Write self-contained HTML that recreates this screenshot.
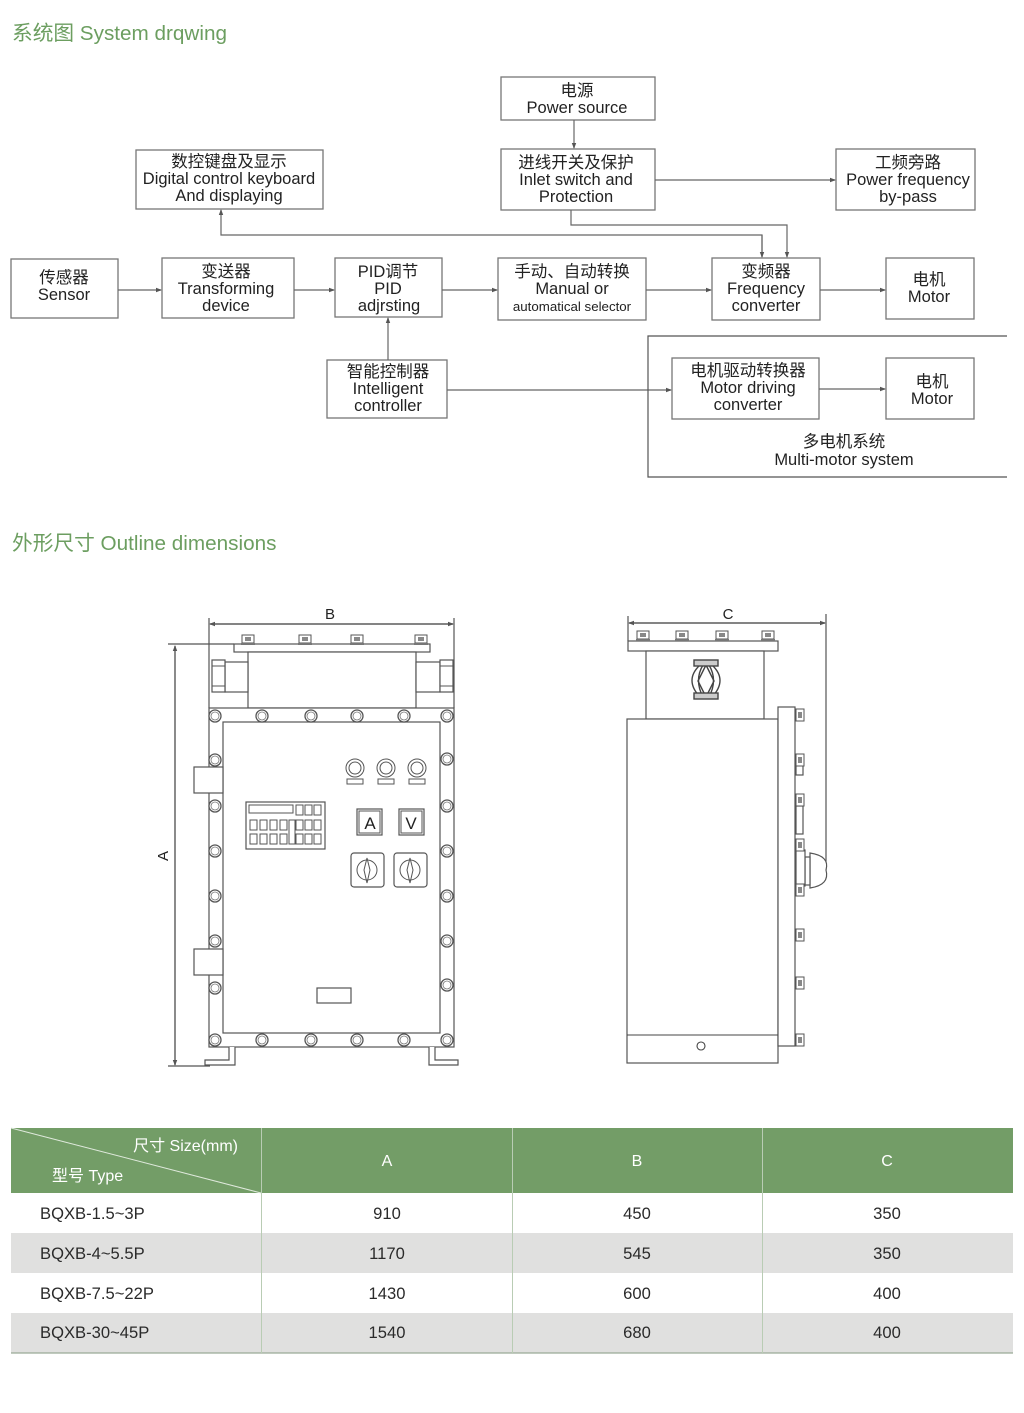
<!DOCTYPE html>
<html><head><meta charset="utf-8"><style>
html,body{margin:0;padding:0;background:#fff;}
svg{display:block;}
text{font-family:"Liberation Sans","Noto Sans CJK SC",sans-serif;}
</style></head><body>
<svg width="1024" height="1413" viewBox="0 0 1024 1413" xmlns="http://www.w3.org/2000/svg">
<defs>
<marker id="ar" markerWidth="6" markerHeight="6" refX="5" refY="3" orient="auto" markerUnits="userSpaceOnUse"><path d="M0,0.8 L6,3 L0,5.2 Z" fill="#555"/></marker>
<g id="bolt"><circle r="6" fill="#fff" stroke="#555" stroke-width="1.3"/><circle r="4" fill="none" stroke="#777" stroke-width="0.8"/></g>
<g id="nut"><rect x="-6" y="-5" width="12" height="8" fill="#fff" stroke="#555"/><rect x="-3" y="-3" width="6" height="4" fill="#888"/><rect x="-7" y="3" width="14" height="2" fill="#777"/></g>
<g id="snut"><rect x="-4" y="-6" width="8" height="12" fill="#fff" stroke="#555"/><rect x="-2" y="-3" width="4" height="6" fill="#888"/></g>
</defs>

<!-- headings -->
<text x="12" y="40" font-size="20.7" fill="#6c9e60">系统图 System drqwing</text>
<text x="12" y="550" font-size="20.7" fill="#6c9e60">外形尺寸 Outline dimensions</text>

<!-- flowchart -->
<g fill="#fff" stroke="#777" stroke-width="1.3">
<rect x="501" y="77" width="154" height="43"/>
<rect x="501" y="149" width="154" height="61"/>
<rect x="836" y="149" width="139" height="61"/>
<rect x="136" y="150" width="187" height="59"/>
<rect x="11" y="259" width="107" height="59"/>
<rect x="162" y="258" width="132" height="60"/>
<rect x="335" y="258" width="107" height="59"/>
<rect x="498" y="258" width="148" height="62"/>
<rect x="712" y="258" width="108" height="62"/>
<rect x="886" y="258" width="88" height="61"/>
<rect x="327" y="360" width="120" height="58"/>
<rect x="672" y="358" width="147" height="61"/>
<rect x="886" y="358" width="88" height="61"/>
</g>
<g fill="none" stroke="#666" stroke-width="1.2">
<line x1="574" y1="120" x2="574" y2="148" marker-end="url(#ar)"/>
<line x1="655" y1="180" x2="835" y2="180" marker-end="url(#ar)"/>
<polyline points="571,210 571,225 787,225 787,257" marker-end="url(#ar)"/>
<polyline points="762,257 762,235 221,235 221,210" marker-end="url(#ar)"/>
<line x1="762" y1="235" x2="762" y2="257" marker-end="url(#ar)"/>
<line x1="118" y1="290" x2="161" y2="290" marker-end="url(#ar)"/>
<line x1="294" y1="290" x2="334" y2="290" marker-end="url(#ar)"/>
<line x1="442" y1="290" x2="497" y2="290" marker-end="url(#ar)"/>
<line x1="646" y1="290" x2="711" y2="290" marker-end="url(#ar)"/>
<line x1="820" y1="290" x2="885" y2="290" marker-end="url(#ar)"/>
<line x1="388" y1="360" x2="388" y2="318" marker-end="url(#ar)"/>
<line x1="447" y1="390" x2="671" y2="390" marker-end="url(#ar)"/>
<line x1="819" y1="389" x2="885" y2="389" marker-end="url(#ar)"/>
<polyline points="1007,336 648,336 648,477 1007,477" stroke="#555"/>
</g>
<g font-size="16.5" fill="#222" text-anchor="middle">
<text x="577" y="96">电源</text><text x="577" y="113">Power source</text>
<text x="576" y="168">进线开关及保护</text><text x="576" y="185">Inlet switch and</text><text x="576" y="202">Protection</text>
<text x="908" y="168">工频旁路</text><text x="908" y="185">Power frequency</text><text x="908" y="202">by-pass</text>
<text x="229" y="167">数控键盘及显示</text><text x="229" y="184">Digital control keyboard</text><text x="229" y="201">And displaying</text>
<text x="64" y="283">传感器</text><text x="64" y="300">Sensor</text>
<text x="226" y="277">变送器</text><text x="226" y="294">Transforming</text><text x="226" y="311">device</text>
<text x="388" y="277">PID调节</text><text x="388" y="294">PID</text><text x="389" y="311">adjrsting</text>
<text x="572" y="277">手动、自动转换</text><text x="572" y="294">Manual or</text><text x="572" y="311" font-size="13.3">automatical selector</text>
<text x="766" y="277">变频器</text><text x="766" y="294">Frequency</text><text x="766" y="311">converter</text>
<text x="929" y="285">电机</text><text x="929" y="302">Motor</text>
<text x="388" y="377">智能控制器</text><text x="388" y="394">Intelligent</text><text x="388" y="411">controller</text>
<text x="748" y="376">电机驱动转换器</text><text x="748" y="393">Motor driving</text><text x="748" y="410">converter</text>
<text x="932" y="387">电机</text><text x="932" y="404">Motor</text>
<text x="844" y="447">多电机系统</text><text x="844" y="465">Multi-motor system</text>
</g>

<!-- front view -->
<g fill="none" stroke="#555" stroke-width="1.2">
<line x1="209" y1="618" x2="209" y2="708"/><line x1="454" y1="618" x2="454" y2="708"/>
<line x1="210" y1="624" x2="453" y2="624" marker-end="url(#ar)"/>
<line x1="453" y1="624" x2="210" y2="624" marker-end="url(#ar)"/>
<line x1="168" y1="644" x2="234" y2="644"/><line x1="168" y1="1066" x2="210" y2="1066"/>
<line x1="175" y1="1065" x2="175" y2="646" marker-end="url(#ar)"/>
<line x1="175" y1="646" x2="175" y2="1065" marker-end="url(#ar)"/>
</g>
<text x="330" y="619" font-size="15" text-anchor="middle" fill="#222">B</text>
<text x="0" y="0" font-size="15" text-anchor="middle" fill="#222" transform="translate(168,856) rotate(-90)">A</text>
<g fill="#fff" stroke="#555" stroke-width="1.2">
<rect x="234" y="644" width="196" height="8"/>
<rect x="248" y="652" width="168" height="56"/>
<rect x="225" y="662" width="23" height="30"/><rect x="416" y="662" width="24" height="30"/>
<rect x="212" y="660" width="13" height="32"/><rect x="440" y="660" width="13" height="32"/>
<rect x="209" y="708" width="245" height="339"/>
<rect x="223" y="722" width="217" height="311"/>
<path d="M229,1047 V1060 H205 V1065 H235 V1047"/>
<path d="M435,1047 V1060 H458 V1065 H429 V1047"/>
<rect x="194" y="767" width="29" height="26"/><rect x="194" y="949" width="29" height="26"/>
<rect x="246" y="802" width="79" height="47"/>
<rect x="357" y="809" width="25" height="26"/><rect x="399" y="809" width="25" height="26"/>
<rect x="351" y="853" width="33" height="34" rx="3"/><rect x="394" y="853" width="33" height="34" rx="3"/>
<rect x="317" y="988" width="34" height="15"/>
</g>
<g fill="none" stroke="#555" stroke-width="1">
<line x1="212" y1="666" x2="225" y2="666"/><line x1="212" y1="686" x2="225" y2="686"/>
<line x1="440" y1="666" x2="453" y2="666"/><line x1="440" y1="686" x2="453" y2="686"/>
<rect x="249" y="805" width="44" height="8"/>
<rect x="296" y="805" width="7" height="10"/><rect x="305" y="805" width="7" height="10"/><rect x="314" y="805" width="7" height="10"/>
<rect x="250" y="820" width="7" height="10"/><rect x="260" y="820" width="7" height="10"/><rect x="270" y="820" width="7" height="10"/><rect x="280" y="820" width="7" height="10"/>
<rect x="250" y="834" width="7" height="10"/><rect x="260" y="834" width="7" height="10"/><rect x="270" y="834" width="7" height="10"/><rect x="280" y="834" width="7" height="10"/>
<rect x="289" y="820" width="6" height="24"/>
<rect x="296" y="820" width="7" height="10"/><rect x="305" y="820" width="7" height="10"/><rect x="314" y="820" width="7" height="10"/>
<rect x="296" y="834" width="7" height="10"/><rect x="305" y="834" width="7" height="10"/><rect x="314" y="834" width="7" height="10"/>
<rect x="359" y="811" width="21" height="22"/><rect x="401" y="811" width="21" height="22"/>
<circle cx="367" cy="870" r="10"/><circle cx="410" cy="870" r="10"/>
<path d="M367,858 L370,870 L367,883 L364,870 Z"/><path d="M410,858 L413,870 L410,883 L407,870 Z"/>
<circle cx="355" cy="768" r="9"/><circle cx="355" cy="768" r="6"/>
<circle cx="386" cy="768" r="9"/><circle cx="386" cy="768" r="6"/>
<circle cx="417" cy="768" r="9"/><circle cx="417" cy="768" r="6"/>
<rect x="347" y="779" width="16" height="5"/><rect x="378" y="779" width="16" height="5"/><rect x="409" y="779" width="16" height="5"/>
</g>
<text x="370" y="829" font-size="17" text-anchor="middle" fill="#222">A</text>
<text x="411" y="829" font-size="17" text-anchor="middle" fill="#222">V</text>
<g>
<use href="#nut" x="248" y="640"/><use href="#nut" x="305" y="640"/><use href="#nut" x="357" y="640"/><use href="#nut" x="421" y="640"/>
<use href="#bolt" x="215" y="716"/><use href="#bolt" x="262" y="716"/><use href="#bolt" x="311" y="716"/><use href="#bolt" x="357" y="716"/><use href="#bolt" x="404" y="716"/><use href="#bolt" x="447" y="716"/>
<use href="#bolt" x="215" y="1040"/><use href="#bolt" x="262" y="1040"/><use href="#bolt" x="311" y="1040"/><use href="#bolt" x="357" y="1040"/><use href="#bolt" x="404" y="1040"/><use href="#bolt" x="447" y="1040"/>
<use href="#bolt" x="215" y="760"/><use href="#bolt" x="215" y="806"/><use href="#bolt" x="215" y="851"/><use href="#bolt" x="215" y="896"/><use href="#bolt" x="215" y="941"/><use href="#bolt" x="215" y="988"/>
<use href="#bolt" x="447" y="759"/><use href="#bolt" x="447" y="806"/><use href="#bolt" x="447" y="851"/><use href="#bolt" x="447" y="896"/><use href="#bolt" x="447" y="941"/><use href="#bolt" x="447" y="985"/>
</g>

<!-- side view -->
<g fill="none" stroke="#555" stroke-width="1.2">
<line x1="628" y1="616" x2="628" y2="641"/>
<line x1="826" y1="614" x2="826" y2="870"/>
<line x1="629" y1="623" x2="825" y2="623" marker-end="url(#ar)"/>
<line x1="825" y1="623" x2="629" y2="623" marker-end="url(#ar)"/>
</g>
<text x="728" y="619" font-size="15" text-anchor="middle" fill="#222">C</text>
<g fill="#fff" stroke="#555" stroke-width="1.2">
<rect x="628" y="641" width="150" height="10"/>
<rect x="646" y="651" width="118" height="68"/>
<rect x="627" y="719" width="151" height="344"/>
<rect x="778" y="707" width="17" height="339"/>
<path d="M810,853 Q830,856 826,870 Q830,885 810,888 Z"/>
<rect x="805" y="857" width="5" height="28"/>
<rect x="796" y="850" width="9" height="36"/>
<rect x="796" y="755" width="7" height="20"/><rect x="796" y="806" width="7" height="28"/>
</g>
<g fill="none" stroke="#444" stroke-width="1.4">
<line x1="627" y1="1035" x2="778" y2="1035" stroke-width="1.1"/>
<circle cx="701" cy="1046" r="4" stroke-width="1.1"/>
<path d="M700,665 Q684,680 700,697"/><path d="M712,665 Q728,680 712,697"/>
<path d="M703,665 Q694,680 703,697 M709,665 Q718,680 709,697"/>
<path d="M706,665 L698,681 L706,697 M706,665 L714,681 L706,697"/>
<rect x="694" y="660" width="24" height="6" fill="#ccc"/><rect x="694" y="693" width="24" height="6" fill="#ccc"/>
</g>
<g>
<use href="#nut" x="643" y="636"/><use href="#nut" x="682" y="636"/><use href="#nut" x="722" y="636"/><use href="#nut" x="768" y="636"/>
<use href="#snut" x="800" y="715"/><use href="#snut" x="800" y="760"/><use href="#snut" x="800" y="800"/><use href="#snut" x="800" y="845"/><use href="#snut" x="800" y="890"/><use href="#snut" x="800" y="935"/><use href="#snut" x="800" y="983"/><use href="#snut" x="800" y="1040"/>
</g>

<!-- table -->
<rect x="11" y="1128" width="1002" height="65" fill="#739d67"/>
<rect x="11" y="1233" width="1002" height="40" fill="#e0e0df"/>
<rect x="11" y="1313" width="1002" height="40" fill="#e0e0df"/>
<line x1="11" y1="1353" x2="1013" y2="1353" stroke="#9aaa96" stroke-width="1.2"/>
<line x1="11" y1="1128" x2="261" y2="1193" stroke="#dfe9dc" stroke-width="1"/>
<g stroke="#b9ccb4" stroke-width="1">
<line x1="261.5" y1="1128" x2="261.5" y2="1353"/>
<line x1="512.5" y1="1128" x2="512.5" y2="1353"/>
<line x1="762.5" y1="1128" x2="762.5" y2="1353"/>
</g>
<g font-size="16" fill="#fff">
<text x="238" y="1151" text-anchor="end">尺寸 Size(mm)</text>
<text x="52" y="1181">型号 Type</text>
<text x="387" y="1166" text-anchor="middle">A</text>
<text x="637" y="1166" text-anchor="middle">B</text>
<text x="887" y="1166" text-anchor="middle">C</text>
</g>
<g font-size="16.6" fill="#2a2a2a">
<text x="40" y="1219">BQXB-1.5~3P</text><text x="387" y="1219" text-anchor="middle">910</text><text x="637" y="1219" text-anchor="middle">450</text><text x="887" y="1219" text-anchor="middle">350</text>
<text x="40" y="1259">BQXB-4~5.5P</text><text x="387" y="1259" text-anchor="middle">1170</text><text x="637" y="1259" text-anchor="middle">545</text><text x="887" y="1259" text-anchor="middle">350</text>
<text x="40" y="1299">BQXB-7.5~22P</text><text x="387" y="1299" text-anchor="middle">1430</text><text x="637" y="1299" text-anchor="middle">600</text><text x="887" y="1299" text-anchor="middle">400</text>
<text x="40" y="1338">BQXB-30~45P</text><text x="387" y="1338" text-anchor="middle">1540</text><text x="637" y="1338" text-anchor="middle">680</text><text x="887" y="1338" text-anchor="middle">400</text>
</g>
</svg>
</body></html>
